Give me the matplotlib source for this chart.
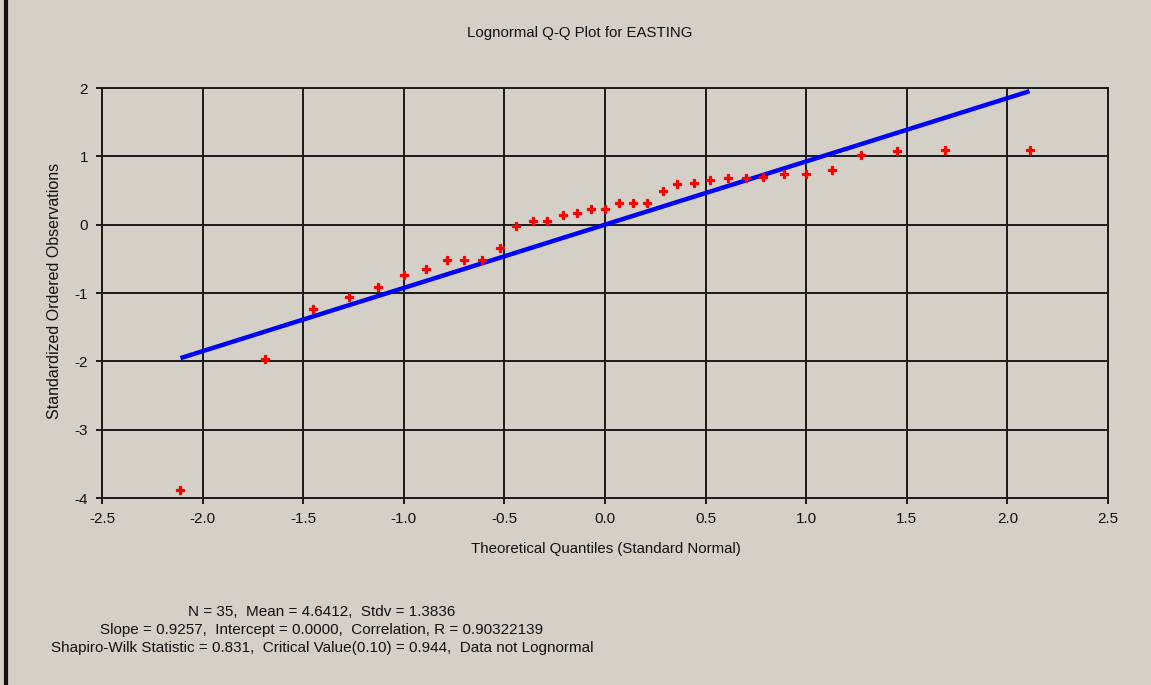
import matplotlib
matplotlib.use("Agg")
import matplotlib.pyplot as plt
from matplotlib.lines import Line2D

# Data
theoretical_quantiles = [-2.11, -1.69, -1.45, -1.27, -1.13, -1.00, -0.89, -0.785, -0.70, -0.61,
                         -0.52, -0.44, -0.36, -0.29, -0.21, -0.14, -0.07, 0.00, 0.07, 0.14,
                         0.21, 0.29, 0.36, 0.44, 0.52, 0.61, 0.70, 0.785, 0.89, 1.00,
                         1.13, 1.27, 1.45, 1.69, 2.11]
standardized_obs = [-3.89, -1.96, -1.24, -1.06, -0.91, -0.74, -0.65, -0.51, -0.51, -0.51,
                    -0.34, -0.02, 0.06, 0.06, 0.14, 0.17, 0.23, 0.23, 0.31, 0.31,
                    0.31, 0.49, 0.59, 0.61, 0.65, 0.68, 0.68, 0.70, 0.74, 0.74,
                    0.80, 1.02, 1.08, 1.10, 1.10]
fit_x = [-2.11, 2.11]
slope = 0.9257
intercept = 0.0
fit_y = [slope * v + intercept for v in fit_x]

x_ticks = [-2.5, -2.0, -1.5, -1.0, -0.5, 0.0, 0.5, 1.0, 1.5, 2.0, 2.5]
y_ticks = [-4, -3, -2, -1, 0, 1, 2]

title = "Lognormal Q-Q Plot for EASTING"
x_label = "Theoretical Quantiles (Standard Normal)"
y_label = "Standardized Ordered Observations"
stats_lines = [
    "N = 35,  Mean = 4.6412,  Stdv = 1.3836",
    "Slope = 0.9257,  Intercept = 0.0000,  Correlation, R = 0.90322139",
    "Shapiro-Wilk Statistic = 0.831,  Critical Value(0.10) = 0.944,  Data not Lognormal",
]

BG = "#d4d0c8"
W, H = 1151, 685
plt.rcParams['font.family'] = ['Liberation Sans', 'DejaVu Sans']

fig = plt.figure(figsize=(W / 100, H / 100), dpi=100, facecolor=BG)
ax = fig.add_axes([102 / W, 1 - 498 / H, (1108 - 102) / W, (498 - 88) / H], facecolor=BG)

ax.set_xlim(-2.5, 2.5)
ax.set_ylim(-4, 2)
ax.set_xticks(x_ticks)
ax.set_xticklabels([f"{v:.1f}" for v in x_ticks])
ax.set_yticks(y_ticks)
ax.set_yticklabels([str(v) for v in y_ticks])
ax.grid(True, color="#1a1a1a", linewidth=1.4)
ax.set_axisbelow(True)
for s in ax.spines.values():
    s.set_color("#1a1a1a")
    s.set_linewidth(1.4)
ax.tick_params(direction='out', length=4, width=1.4, color="#1a1a1a",
               labelsize=11, labelcolor="#111111", pad=6)

ax.plot(fit_x, fit_y, color="#0000ff", linewidth=3.2, solid_capstyle='butt', zorder=3)
ax.plot(theoretical_quantiles, standardized_obs, linestyle='none', marker='P',
        markersize=6, color="#ff0000", markeredgecolor="#ff0000", markeredgewidth=0.9,
        zorder=4)

fig.text(580 / W, 1 - 33 / H, title, ha='center', va='center', fontsize=10.8, color="#111111")
fig.text(606 / W, 1 - 549 / H, x_label, ha='center', va='center', fontsize=10.8, color="#111111")
fig.text(55 / W, 1 - 291 / H, y_label, ha='center', va='center', rotation=90,
         fontsize=11.5, color="#111111")
fig.text(322 / W, 1 - 630 / H, "\n".join(stats_lines), ha='center', va='center',
         multialignment='center', fontsize=11, color="#111111", linespacing=1.38)

fig.add_artist(Line2D([5.5 / W, 5.5 / W], [0, 1], color="#111111", linewidth=3,
                      transform=fig.transFigure))

fig.savefig("out.png", dpi=100, facecolor=BG)
